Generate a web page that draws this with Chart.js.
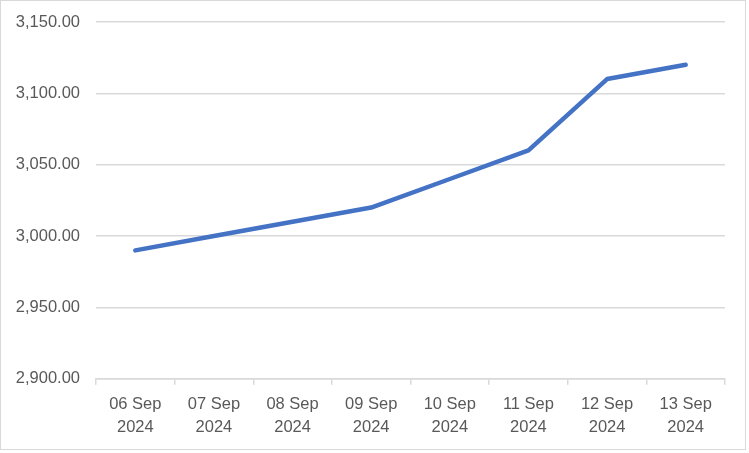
<!DOCTYPE html>
<html>
<head>
<meta charset="utf-8">
<script src="https://cdn.jsdelivr.net/npm/chart.js@4/dist/chart.umd.min.js"></script>
<style>
  html, body { margin: 0; padding: 0; background: #ffffff; }
  #wrap { position: absolute; left: 0; top: 0; width: 746px; height: 450px; border: 1px solid #d9d9d9; box-sizing: border-box; background: #fff; }
  canvas { display: block; }
</style>
</head>
<body>
<div id="wrap"><canvas id="c" width="744" height="448"></canvas></div>
<script>
const categories = [
  ["06 Sep", "2024"], ["07 Sep", "2024"], ["08 Sep", "2024"], ["09 Sep", "2024"],
  ["10 Sep", "2024"], ["11 Sep", "2024"], ["12 Sep", "2024"], ["13 Sep", "2024"]
];
const seriesValues = [2990, 3000, 3010, 3020, 3040, 3060, 3110, 3120];
const yMin = 2900;
const yMax = 3150;
const yStep = 50;

const FONT = "'Liberation Sans', 'DejaVu Sans', sans-serif";
const TEXT = '#595959';
const GRID = '#d9d9d9';

new Chart(document.getElementById('c'), {
  type: 'line',
  data: {
    labels: categories,
    datasets: [{
      data: seriesValues,
      borderColor: '#4472C4',
      borderWidth: 4.5,
      pointRadius: 0,
      pointHoverRadius: 0,
      tension: 0,
      fill: false,
      borderCapStyle: 'round',
      borderJoinStyle: 'round'
    }]
  },
  options: {
    responsive: false,
    animation: false,
    devicePixelRatio: 1,
    layout: { padding: { left: 0, right: 20, top: 21, bottom: 2 } },
    plugins: { legend: { display: false }, tooltip: { enabled: false }, title: { display: false } },
    scales: {
      x: {
        type: 'category',
        offset: true,
        grid: { display: true, offset: true, drawOnChartArea: false, drawTicks: true, tickLength: 6, color: GRID, lineWidth: 1.5 },
        border: { display: true, color: GRID, width: 1.5 },
        ticks: { color: TEXT, font: { family: FONT, size: 16.5, lineHeight: 1.4 }, padding: 8, maxRotation: 0, autoSkip: false }
      },
      y: {
        min: yMin,
        max: yMax,
        afterFit: (s) => { s.width = 95; },
        grid: { color: GRID, lineWidth: 1.5, drawTicks: false },
        border: { display: false },
        ticks: {
          stepSize: yStep,
          color: TEXT,
          font: { family: FONT, size: 16.5, lineHeight: 0.5 },
          padding: 16,
          callback: (v) => Number(v).toLocaleString('en-US', { minimumFractionDigits: 2, maximumFractionDigits: 2 })
        }
      }
    }
  }
});
</script>
</body>
</html>
